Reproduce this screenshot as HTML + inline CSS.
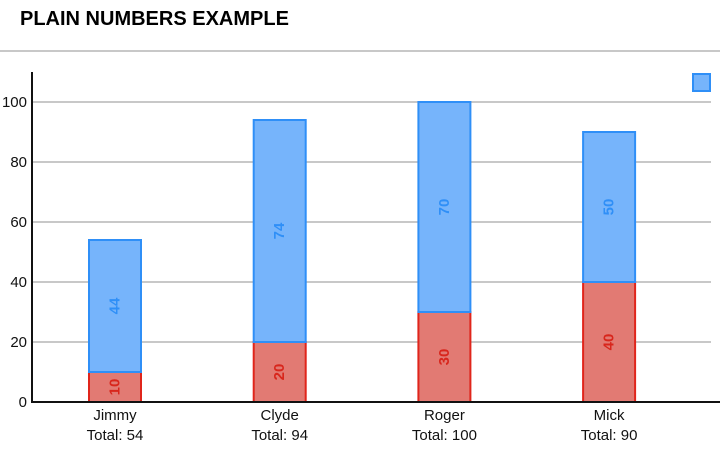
<!DOCTYPE html>
<html><head><meta charset="utf-8"><style>
body{margin:0;background:#fff;width:720px;height:445px;overflow:hidden;font-family:"Liberation Sans",Arial,sans-serif}
</style></head><body>
<svg width="720" height="445">
<text x="20" y="25" font-size="20" font-weight="bold" fill="#000">PLAIN NUMBERS EXAMPLE</text>
<line x1="0" y1="51" x2="720" y2="51" stroke="#c8c8c8" stroke-width="2"/>
<g id="grid"></g><g id="bars"></g>
<line x1="32" y1="72" x2="32" y2="403" stroke="#111" stroke-width="2"/>
<line x1="31" y1="402" x2="720" y2="402" stroke="#111" stroke-width="2"/>
<rect x="693" y="74" width="17" height="17" fill="#76b4fb" stroke="#2f8ff7" stroke-width="2"/>
</svg>
<script>
const categories=["Jimmy","Clyde","Roger","Mick"];
const redValues=[10,20,30,40];
const blueValues=[44,74,70,50];
const yTicks=[0,20,40,60,80,100];
const NS="http://www.w3.org/2000/svg";
const y=v=>402-v*3;
const xc=i=>115+i*164.7;
function mk(t,a,p){const e=document.createElementNS(NS,t);for(const k in a)e.setAttribute(k,a[k]);p.appendChild(e);return e;}
const g=document.getElementById('grid'),b=document.getElementById('bars');
yTicks.forEach(t=>{
 if(t>0){const l=mk('line',{x1:33,x2:711,y1:y(t),y2:y(t),stroke:'#c8c8c8','stroke-width':2},g);
 
 }
 const tx=mk('text',{x:27,y:y(t)+5,'text-anchor':'end','font-size':15,fill:'#111'},g);tx.textContent=t;
 
 
});
categories.forEach((c,i)=>{
 const x=xc(i)-26,r=redValues[i],bl=blueValues[i];
 const rb=mk('rect',{x:x,y:y(r),width:52,height:r*3,fill:'#e27a73',stroke:'#e0251b','stroke-width':2},b);
 
 
 const bb=mk('rect',{x:x,y:y(r+bl),width:52,height:bl*3,fill:'#76b4fb',stroke:'#2f8ff7','stroke-width':2},b);
 
 
 [[r,0,'#d8261c'],[bl,r,'#2f8ff7']].forEach(([v,base,col])=>{
  const cy=y(base+v/2);
  const t=mk('text',{x:xc(i),y:cy,'text-anchor':'middle','dominant-baseline':'central','font-size':15,'font-weight':'bold',fill:col,transform:`rotate(-90 ${xc(i)} ${cy})`},b);
  t.textContent=v;
  
  
 });
 const l1=mk('text',{x:xc(i),y:420,'text-anchor':'middle','font-size':15,fill:'#111'},b);l1.textContent=c;
 
 
 const l2=mk('text',{x:xc(i),y:440,'text-anchor':'middle','font-size':15,fill:'#111'},b);l2.textContent='Total: '+(r+bl);
 
 
});
</script>
</body></html>
